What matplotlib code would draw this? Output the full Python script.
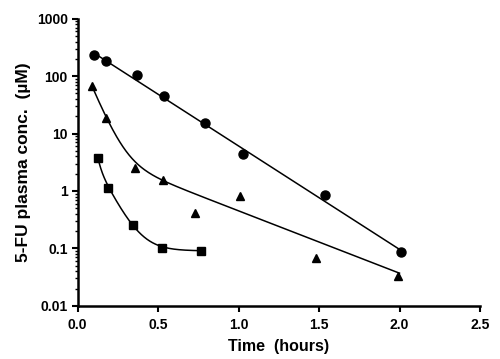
import numpy as np
import matplotlib
matplotlib.use("Agg")
import matplotlib.pyplot as plt

# measured points (time in hours, concentration in uM)
t_circle = [0.10, 0.18, 0.37, 0.54, 0.79, 1.03, 1.54, 2.01]
c_circle = [232, 182, 104, 45, 15.2, 4.4, 0.85, 0.087]

t_tri = [0.09, 0.18, 0.36, 0.53, 0.73, 1.01, 1.48, 1.99]
c_tri = [67, 18.6, 2.5, 1.55, 0.41, 0.82, 0.068, 0.033]

t_sq = [0.127, 0.19, 0.345, 0.525, 0.768]
c_sq = [3.75, 1.13, 0.257, 0.102, 0.0906]

# fitted exponential models: (amplitude, rate) pairs
fit_circle = [(385, 4.147)]
fit_tri = [(252, 15.5), (5.5, 2.5)]
fit_sq = [(2510, 60.0), (11.9, 12.5), (0.0906, 0.0)]


def model(t, terms):
    return sum(a * np.exp(-k * t) for a, k in terms)


plt.rcParams['font.family'] = ['Liberation Sans', 'DejaVu Sans']
plt.rcParams['font.weight'] = 'bold'

fig = plt.figure(figsize=(5, 3.59), dpi=100)
ax = fig.add_axes([0.155, 0.148, 0.805, 0.8])

for tt, cc, terms, mk, ms in [(t_circle, c_circle, fit_circle, 'o', 6.5),
                              (t_tri, c_tri, fit_tri, '^', 6),
                              (t_sq, c_sq, fit_sq, 's', 5.5)]:
    tf = np.linspace(tt[0], 2.0 if tt is not t_sq else tt[-1], 300)
    ax.plot(tf, model(tf, terms), color='black', lw=1.1)
    ax.plot(tt, cc, linestyle='none', marker=mk, color='black', markersize=ms)

ax.set_yscale('log')
ax.set_ylim(0.01, 1000)
ax.set_xlim(0, 2.5)
ax.set_xticks([0, 0.5, 1.0, 1.5, 2.0, 2.5])
ax.set_xticklabels(['0.0', '0.5', '1.0', '1.5', '2.0', '2.5'])
ax.set_yticks([0.01, 0.1, 1, 10, 100, 1000])
ax.set_yticklabels(['0.01', '0.1', '1', '10', '100', '1000'])

for s in ['top', 'right']:
    ax.spines[s].set_visible(False)
for s in ['left', 'bottom']:
    ax.spines[s].set_linewidth(1.8)

ax.tick_params(axis='both', which='major', length=4, width=1.5, labelsize=10)
ax.tick_params(axis='x', which='major', pad=5)
ax.tick_params(axis='y', which='major', pad=3)
ax.tick_params(axis='y', which='minor', length=2.5, width=1.0)

ax.set_xlabel('Time  (hours)', fontsize=11.5, fontweight='bold', labelpad=5)
ax.set_ylabel('5-FU plasma conc.  (\u00b5M)', fontsize=12.5, fontweight='bold', labelpad=4)

fig.savefig('out.png', dpi=100)
